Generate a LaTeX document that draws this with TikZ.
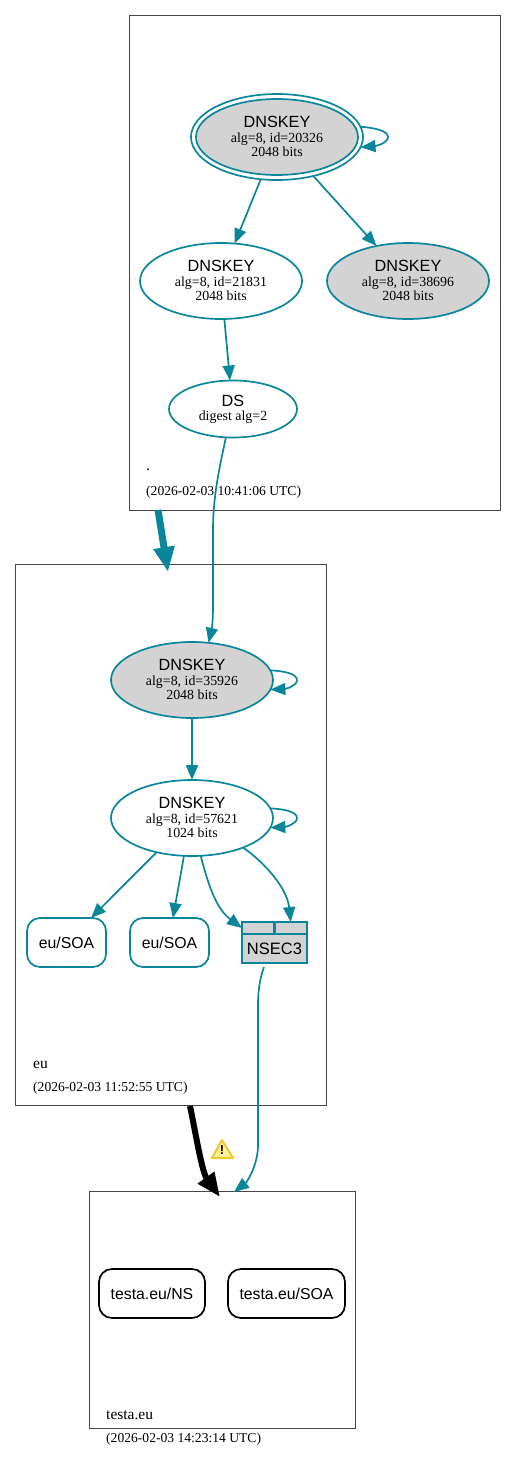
\documentclass[tikz,border=0pt]{standalone}
\usepackage{fontspec}
\usepackage{tikz}
\usetikzlibrary{arrows.meta,shapes.geometric}
\setmainfont{Liberation Serif}
\newfontfamily\labelsans{Liberation Sans}
\definecolor{sigTeal}{RGB}{10, 134, 154}
\definecolor{keyGray}{RGB}{211, 211, 211}
\definecolor{zoneLine}{RGB}{70, 70, 70}
\definecolor{warnYellow}{RGB}{255, 240, 150}
\definecolor{warnEdge}{RGB}{240, 200, 50}
\newcommand{\smallsize}{\fontsize{13.6}{14.2}\selectfont}
\newcommand{\keysize}{\fontsize{13.9}{14.2}\selectfont}
\newcommand{\namesize}{\fontsize{15.5}{16}\selectfont}
\newcommand{\bigsize}{\labelsans\fontsize{16.2}{17}\selectfont}
\newcommand{\rrsize}{\labelsans\fontsize{15.8}{17}\selectfont}
\newcommand{\keytext}[2]{{\bigsize DNSKEY}\\[0.5pt]alg=8, id=#1\\#2 bits\rule[-1.5pt]{0pt}{1pt}}
\tikzset{
  zonebox/.style={draw=zoneLine, line width=0.8pt, inner sep=0pt, outer sep=0pt},
  zonetext/.style={anchor=west, inner sep=0pt, font=\smallsize},
  nametext/.style={zonetext, font=\namesize},
  keynode/.style={ellipse, draw=sigTeal, line width=1.7pt, inner sep=0pt, outer sep=0pt,
    minimum width=162pt, minimum height=76pt, align=center, font=\keysize},
  ksknode/.style={keynode, fill=keyGray},
  dsnode/.style={keynode, minimum width=128pt, minimum height=57pt},
  rrnode/.style={draw=sigTeal, line width=1.7pt, rounded corners=13pt, inner sep=0pt, outer sep=0pt,
    minimum width=79pt, minimum height=49pt, font=\rrsize},
  testanode/.style={rrnode, draw=black},
  nsecnode/.style={draw=sigTeal, fill=keyGray, line width=2.2pt, inner sep=0pt, outer sep=0pt, font=\labelsans\fontsize{16.5}{17}\selectfont},
  sigedge/.style={draw=sigTeal, line width=1.7pt, -{Triangle[length=15pt,width=12pt]}},
  zoneedge/.style={draw=sigTeal, line width=7pt, -{Triangle[length=25pt,width=20pt]}},
  badedge/.style={draw=black, line width=6pt, -{Triangle[length=24pt,width=19pt]}}
}
\begin{document}
\begin{tikzpicture}[x=1pt, y=-1pt]
        \useasboundingbox (0,0) rectangle (516,1473);
        \node[zonebox, minimum width=370.5pt, minimum height=494.5pt] (rootzone) at (314.75,262.75) {};
        \node[zonebox, minimum width=310.5pt, minimum height=541.5pt] (euzone) at (171,835) {};
        \node[zonebox, minimum width=266.5pt, minimum height=237.5pt] (testazone) at (222.5,1310) {};

        \node[nametext] (rootname) at (146,470) {.};
        \node[zonetext] (rootdate) at (146,492.5) {(2026-02-03 10:41:06 UTC)};
        \node[nametext] (euname) at (33,1064.5) {eu};
        \node[zonetext] (eudate) at (33,1088.5) {(2026-02-03 11:52:55 UTC)};
        \node[nametext] (testaname) at (106,1415) {testa.eu};
        \node[zonetext] (testadate) at (106,1439.5) {(2026-02-03 14:23:14 UTC)};

        \node[keynode, minimum width=172pt, minimum height=86pt] (rootring) at (277,137) {};
        \node[ksknode] (rootksk) at (277,137) {\keytext{20326}{2048}};
        \node[keynode] (rootzsk) at (221,281) {\keytext{21831}{2048}};
        \node[ksknode] (rootkey) at (408,281) {\keytext{38696}{2048}};
        \node[dsnode, align=center] (rootds) at (233,409) {{\bigsize DS}\\[0pt]digest alg=2};
        \node[ksknode] (euksk) at (192,680) {\keytext{35926}{2048}};
        \node[keynode] (euzsk) at (192,818) {\keytext{57621}{1024}};
        \node[rrnode] (eusoaone) at (66.5,942.5) {eu/SOA};
        \node[rrnode] (eusoatwo) at (169.5,942.5) {eu/SOA};
        \node[nsecnode, minimum width=32.5pt, minimum height=12pt] (nsecleft) at (258.25,928) {};
        \node[nsecnode, minimum width=32.5pt, minimum height=12pt] (nsecright) at (290.75,928) {};
        \node[nsecnode, minimum width=65pt, minimum height=29pt] (nsecbody) at (274.5,948.5) {NSEC3};
        \node[testanode, minimum width=106pt] (testans) at (152,1293.5) {testa.eu/NS};
        \node[testanode, minimum width=117pt] (testasoa) at (286.5,1293.5) {testa.eu/SOA};

        \coordinate (rootout) at (158,510);
        \coordinate (euin) at (168,572);
        \coordinate (euout) at (190,1106);
        \coordinate (testain) at (220,1197);
        \coordinate (nsecout) at (264,967);
        \coordinate (denialin) at (234,1192);

        \draw[sigedge] (rootring.7) .. controls (376,128) and (388,131) .. (388,137) .. controls (388,143) and (376,146) .. (rootring.-7);
        \draw[sigedge] (rootring.249) -- (rootzsk.70);
        \draw[sigedge] (rootring.313) -- (rootkey.132);
        \draw[sigedge] (rootzsk.275) -- (rootds.96);
        \draw[sigedge] (rootds.256) .. controls (220,465) and (213,495) .. (213,530) -- (213,605) .. controls (213,620) and (212,628) .. (euksk.66);
        \draw[sigedge] (euksk.7) .. controls (285,671) and (297,674) .. (297,680) .. controls (297,686) and (285,689) .. (euksk.-7);
        \draw[sigedge] (euksk.south) -- (euzsk.north);
        \draw[sigedge] (euzsk.7) .. controls (285,809) and (297,812) .. (297,818) .. controls (297,824) and (285,827) .. (euzsk.-7);
        \draw[sigedge] (euzsk.224) -- (eusoaone.45);
        \draw[sigedge] (euzsk.258) -- (eusoatwo.82);
        \draw[sigedge] (euzsk.283) .. controls (207,880) and (215,908) .. (nsecleft.west);
        \draw[sigedge] (euzsk.330) .. controls (265,863) and (287,888) .. (nsecright.north);
        \draw[sigedge] (nsecout) .. controls (260,978) and (258,990) .. (258,1005) -- (258,1145) .. controls (258,1165) and (247,1182) .. (denialin);
        \draw[zoneedge] (rootout) -- (euin);
        \draw[badedge] (euout) .. controls (196,1135) and (202,1172) .. (testain);

        \draw[line width=2pt, draw=warnEdge, fill=warnYellow, line join=round] (222,1140) -- (233,1158) -- (212,1158) -- cycle;
        \node[inner sep=0pt, font=\labelsans\bfseries\fontsize{13}{13}\selectfont] (warnmark) at (222,1150) {!};
      \end{tikzpicture}
\end{document}
